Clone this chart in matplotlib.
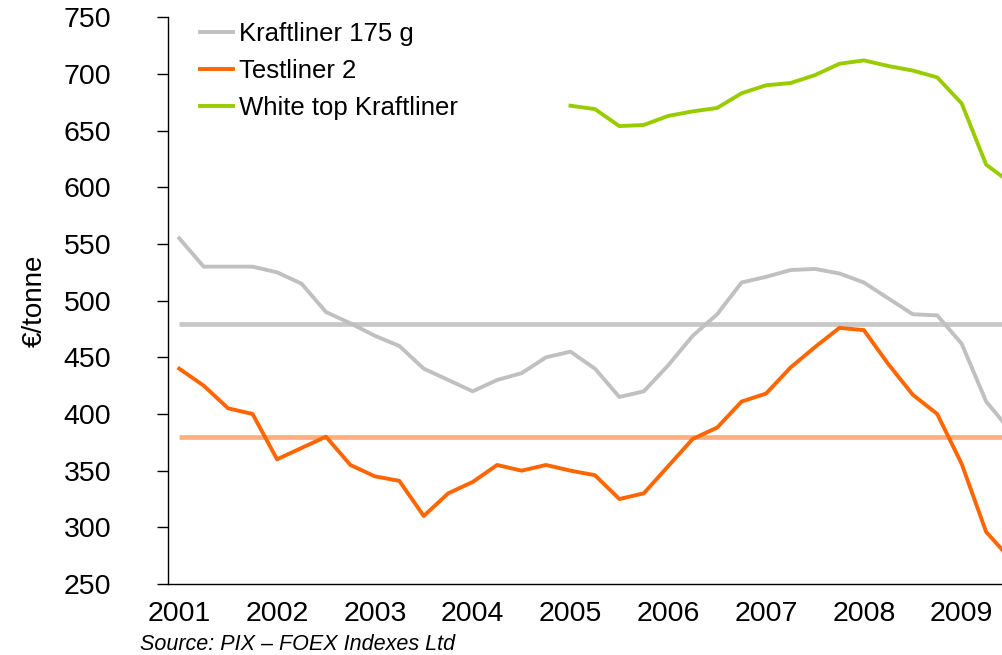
import matplotlib
matplotlib.use("Agg")
import matplotlib.pyplot as plt
import numpy as np

plt.rcParams['font.family'] = ['Liberation Sans', 'DejaVu Sans']

# Quarterly observations, 2001 Q1 onward
year_labels = ["2001", "2002", "2003", "2004", "2005", "2006", "2007", "2008", "2009"]
kraftliner = [555, 530, 530, 530, 525, 515, 490, 480, 469, 460, 440, 430, 420, 430, 436, 450,
              455, 440, 415, 420, 443, 469, 488, 516, 521, 527, 528, 524, 516, 502, 488, 487,
              462, 411, 385]
testliner = [440, 425, 405, 400, 360, 370, 380, 355, 345, 341, 310, 330, 340, 355, 350, 355,
             350, 346, 325, 330, 354, 378, 388, 411, 418, 441, 459, 476, 474, 444, 417, 400,
             356, 296, 272]
white_top_start = 16
white_top = [672, 669, 654, 655, 663, 667, 670, 683, 690, 692, 699, 709, 712, 707, 703, 697,
             674, 620, 604]
kraftliner_avg = 479
testliner_avg = 380

W, H = 1003, 655
fig = plt.figure(figsize=(W / 100, H / 100), dpi=100)
ax_left, ax_right = 168 / W, 1.0
ax_bottom, ax_top = (H - 584) / H, (H - 17.3) / H
ax = fig.add_axes([ax_left, ax_bottom, ax_right - ax_left, ax_top - ax_bottom])

n = len(kraftliner)
x = np.arange(n)
xw = np.arange(white_top_start, white_top_start + len(white_top))

ax.plot([0, n + 2], [kraftliner_avg] * 2, color="#C8C8C8", lw=3.4, solid_capstyle="butt", zorder=1)
ax.plot([0, n + 2], [testliner_avg] * 2, color="#FFB07F", lw=3.4, solid_capstyle="butt", zorder=1)

ax.plot(x, kraftliner, color="#C0C0C0", lw=2.8, label="Kraftliner 175 g", zorder=2)
ax.plot(x, testliner, color="#FF6600", lw=2.8, label="Testliner 2", zorder=3)
ax.plot(xw, white_top, color="#99CC00", lw=2.8, label="White top Kraftliner", zorder=3)

ax.set_xlim(-0.46, 33.69)
ax.set_ylim(250, 750)
ax.set_yticks(np.arange(250, 751, 50))
ax.set_xticks(np.arange(0, 4 * len(year_labels), 4))
ax.set_xticklabels(year_labels)

for s in ["top", "right"]:
    ax.spines[s].set_visible(False)
ax.spines["left"].set_linewidth(1.0)
ax.spines["bottom"].set_linewidth(1.0)
ax.tick_params(axis="y", direction="out", length=8, width=1.0, labelsize=20.5, pad=33)
ax.tick_params(axis="x", length=0, labelsize=20.5, pad=12)

ax.set_ylabel("€/tonne", fontsize=20, labelpad=11)

leg = ax.legend(loc="upper left", bbox_to_anchor=(200 / W, 1 - 22 / H), bbox_transform=fig.transFigure,
                frameon=False, fontsize=18.5, handlelength=1.3, handletextpad=0.22,
                labelspacing=0.5, borderpad=0, borderaxespad=0)

fig.text(140 / W, 1 - 645 / H, "Source: PIX – FOEX Indexes Ltd", fontsize=15.5, style="italic",
         va="center", ha="left")

fig.savefig("out.png", dpi=100)
